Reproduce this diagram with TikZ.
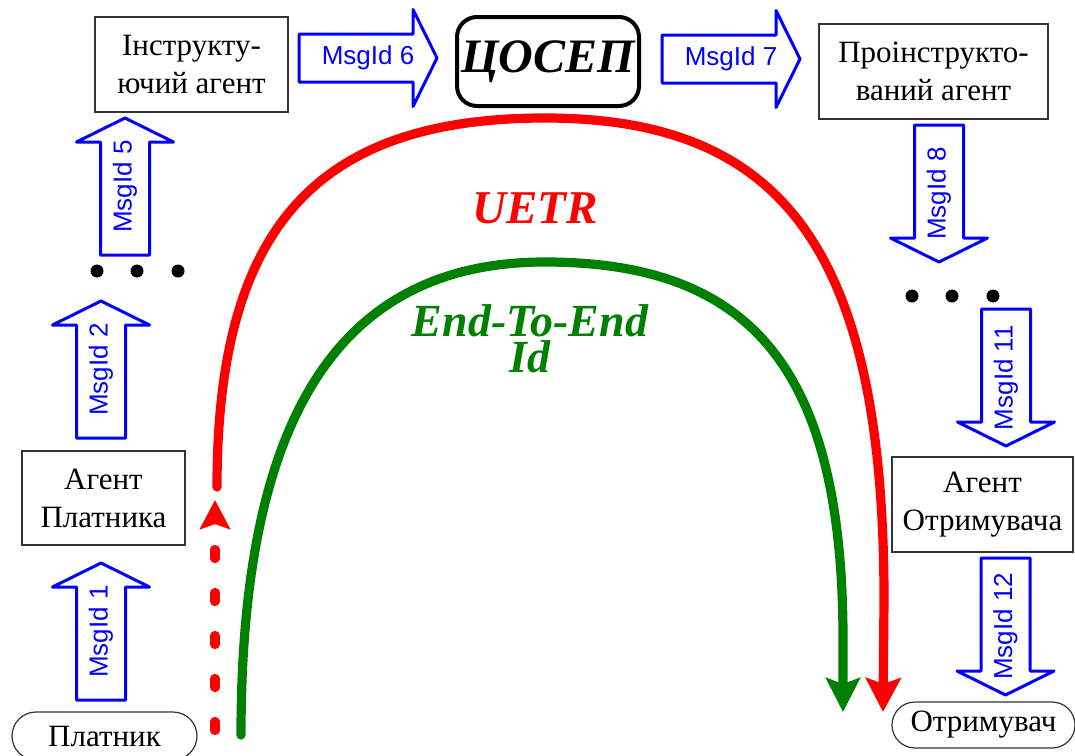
\documentclass[tikz,border=0pt]{standalone}
\usepackage{fontspec}
\setmainfont{Liberation Serif}
\newfontfamily\arialfont{Liberation Sans}
\usepackage{xcolor}
\usepackage{tikz}
\usetikzlibrary{arrows.meta,shapes.misc}
\definecolor{msgblue}{HTML}{0000FF}
\definecolor{uetrred}{HTML}{FF0000}
\definecolor{eegreen}{HTML}{008000}
\definecolor{frame}{HTML}{333333}
\tikzset{
  box/.style={draw=frame, line width=0.6pt, inner sep=0pt, align=center, font=\fontsize{15.5}{19}\selectfont},
  term/.style={box, rounded rectangle},
  hub/.style={draw=black, line width=2pt, rounded corners=10pt, inner sep=0pt, font=\bfseries\itshape\fontsize{24}{28}\selectfont},
  msg/.style={draw=msgblue, line width=1.5pt, line join=round},
  msglab/.style={text=msgblue, font=\arialfont\fontsize{13}{15}\selectfont},
  uetr/.style={draw=uetrred, line width=4.6pt, line cap=round},
  eeid/.style={draw=eegreen, line width=4.6pt, line cap=round},
  biglab/.style={font=\bfseries\itshape\fontsize{23.5}{28}\selectfont, anchor=base}
}

\begin{document}
\begin{tikzpicture}[x=0.5pt,y=0.5pt]
  \useasboundingbox (0,0) rectangle (1075,-755);

  % agents and end points
  \node[box, minimum width=96.5pt, minimum height=47.5pt] (instr) at (191.5,-64.5) {Інструкту-\\ючий агент};
  \node[hub, minimum width=91pt, minimum height=44.5pt] (csep) at (548,-61.5) {ЦОСЕП};
  \node[box, minimum width=114.5pt, minimum height=47.5pt] (proinstr) at (933.5,-71.5) {Проінструкто-\\ваний агент};
  \node[box, minimum width=81.5pt, minimum height=47pt] (agpayer) at (103.5,-498) {Агент\\Платника};
  \node[box, minimum width=90.5pt, minimum height=47.5pt] (agrecip) at (982.5,-504.5) {Агент\\Отримувача};
  \node[term, minimum width=92.5pt, minimum height=24pt] (payer) at (104.5,-736) {Платник};
  \node[term, minimum width=91.5pt, minimum height=23pt] (recip) at (983.5,-725) {Отримувач};

  % message arrows
  \foreach \x/\y/\n in {101/700/1, 101/438/2, 125/255/5} {
    \draw[msg] (\x-24.5,-\y) -- (\x+24.5,-\y) -- (\x+24.5,-\y+113) -- (\x+48.5,-\y+113)
      -- (\x,-\y+137) -- (\x-48.5,-\y+113) -- (\x-24.5,-\y+113) -- cycle;
    \node[msglab, rotate=90] (m\n) at (\x,-\y+68.5) {MsgId \n};
  }
  \foreach \x/\y/\n in {939/125/8, 1006/309/11, 1005.5/558/12} {
    \draw[msg] (\x-24.5,-\y) -- (\x+24.5,-\y) -- (\x+24.5,-\y-113) -- (\x+48.5,-\y-113)
      -- (\x,-\y-137) -- (\x-48.5,-\y-113) -- (\x-24.5,-\y-113) -- cycle;
    \node[msglab, rotate=90] (m\n) at (\x,-\y-68.5) {MsgId \n};
  }
  \foreach \x/\y/\n in {299/58/6, 662/59/7} {
    \draw[msg] (\x,-\y+24) -- (\x+114,-\y+24) -- (\x+114,-\y+48.5) -- (\x+138,-\y)
      -- (\x+114,-\y-48.5) -- (\x+114,-\y-24) -- (\x,-\y-24) -- cycle;
    \node[msglab] (m\n) at (\x+69,-\y) {MsgId \n};
  }

  % skipped steps
  \foreach \x in {97,137,178} \fill (\x,-271) circle (6.5);
  \foreach \x in {912,952,993} \fill (\x,-296) circle (6.5);

  % UETR and End-To-End Id
  \draw[uetr, dash pattern=on 4.5pt off 17pt, -{Stealth[length=14.5pt,width=15pt,inset=2.5pt]}] (215,-730.5) -- (215,-500);
  \draw[uetr, -{Stealth[length=17pt,width=17.5pt,inset=3pt]}] (217,-487)
    .. controls (217,-229) and (315,-118) .. (545,-118)
    .. controls (785,-118) and (884,-253) .. (884,-600) -- (883,-712);
  \draw[eeid, -{Stealth[length=17pt,width=17pt,inset=3pt]}] (241,-735)
    .. controls (241,-428) and (332,-262) .. (545,-262)
    .. controls (754,-262) and (843,-372) .. (843,-640) -- (843,-712);

  \node[biglab, text=uetrred] (uetrlab) at (535,-223) {UETR};
  \node[biglab, text=eegreen, align=center, font=\bfseries\itshape\fontsize{23}{18}\selectfont] (eelab) at (530,-372) {End-To-End\\Id};
\end{tikzpicture}
\end{document}
